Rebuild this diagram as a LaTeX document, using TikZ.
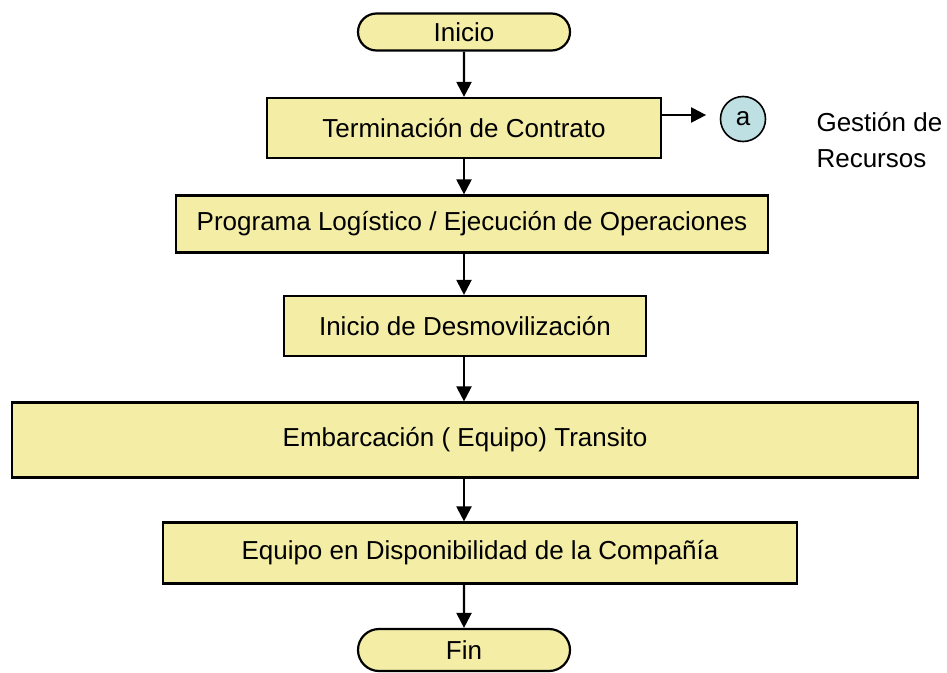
\documentclass[tikz,border=0pt]{standalone}
\usepackage{fontspec}
\setmainfont{Liberation Sans}
\usetikzlibrary{shapes.misc,arrows.meta}
\definecolor{boxyellow}{RGB}{243,237,166}
\definecolor{circblue}{RGB}{190,224,226}
\tikzset{
  procbox/.style={draw, line width=2.2pt, fill=boxyellow, minimum height=60pt, inner sep=0pt},
  termbox/.style={draw, line width=2.2pt, fill=boxyellow, rounded rectangle, minimum width=212pt, minimum height=37pt, inner sep=0pt},
  conbox/.style={draw, line width=1.6pt, fill=circblue, circle, minimum size=45pt, inner sep=0pt},
  flow/.style={line width=2.2pt, -{Triangle[length=15pt,width=15pt]}}
}
\begin{document}
\begin{tikzpicture}[x=1pt, y=-1pt, every node/.style={font=\fontsize{26}{31}\selectfont}]
	\useasboundingbox (0,0) rectangle (947,672);

	% Terminals
	\node[termbox] (inicio) at (464,32) {Inicio};
	\node[termbox, minimum height=42pt] (fin) at (464,650) {Fin};

	% Process boxes
	\node[procbox, minimum width=394pt] (term) at (464,128) {Terminación de Contrato};
	\node[procbox, minimum width=592pt, minimum height=57pt] (prog) at (472,224) {Programa Logístico / Ejecución de Operaciones};
	\node[procbox, minimum width=362pt] (desm) at (465,326) {Inicio de Desmovilización};
	\node[procbox, minimum width=906pt, minimum height=75pt] (emb) at (465,440) {Embarcación ( Equipo) Transito};
	\node[procbox, minimum width=634pt, minimum height=61pt] (equipo) at (480,553) {Equipo en Disponibilidad de la Compañía};

	% Connector
	\node[conbox] (a) at (743,119) {a};
	\node[anchor=west, align=left, font=\fontsize{26}{36}\selectfont] (gest) at (813,140) {Gestión de\\Recursos};

	% Flow arrows
	\draw[flow] (inicio) -- (inicio |- term.north);
	\draw[flow] (term.south -| inicio) -- (inicio |- prog.north);
	\draw[flow] (prog.south -| inicio) -- (inicio |- desm.north);
	\draw[flow] (desm.south -| inicio) -- (inicio |- emb.north);
	\draw[flow] (emb.south -| inicio) -- (inicio |- equipo.north);
	\draw[flow] (equipo.south -| inicio) -- (fin);
	\draw[flow] ([yshift=13pt]term.east) -- ++(44,0);
\end{tikzpicture}
\end{document}
